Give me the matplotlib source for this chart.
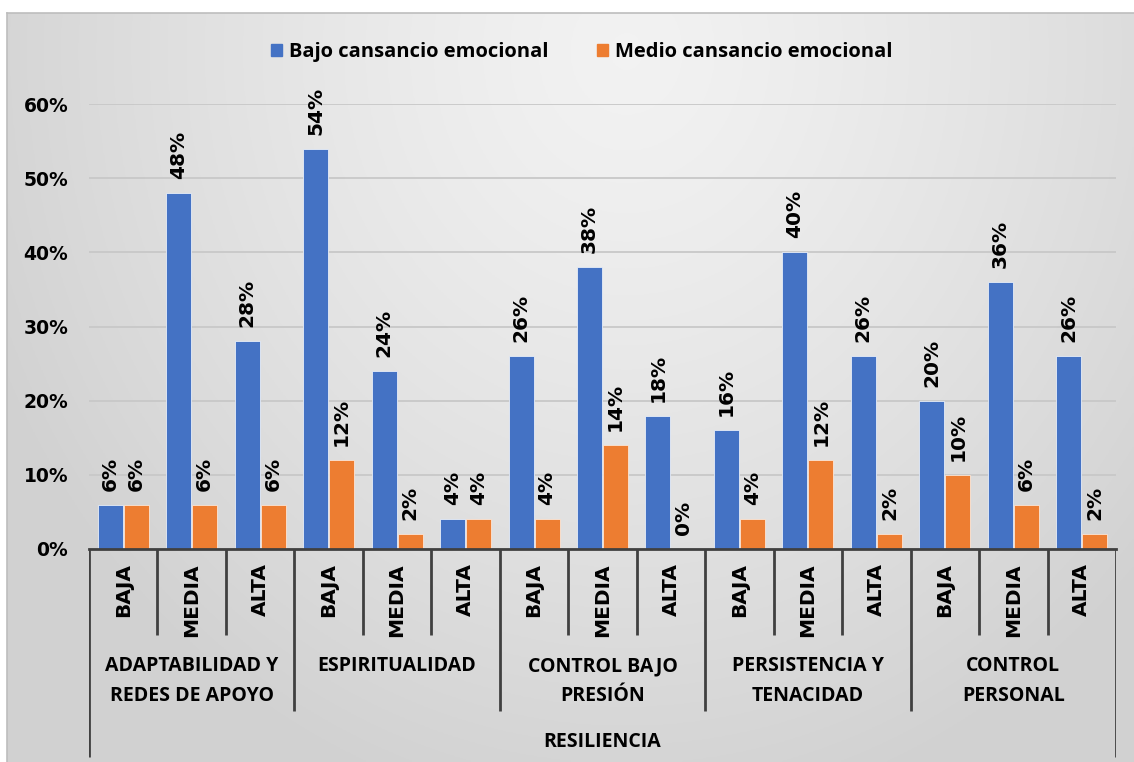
import numpy as np
import matplotlib.pyplot as plt
from matplotlib.patches import Patch

# data
niveles = ["BAJA", "MEDIA", "ALTA"] * 5
dimensiones = ["ADAPTABILIDAD Y\nREDES DE APOYO", "ESPIRITUALIDAD", "CONTROL BAJO\nPRESIÓN",
               "PERSISTENCIA Y\nTENACIDAD", "CONTROL\nPERSONAL"]
titulo_eje = "RESILIENCIA"
series = ["Bajo cansancio emocional", "Medio cansancio emocional"]
bajo = [6, 48, 28, 54, 24, 4, 26, 38, 18, 16, 40, 26, 20, 36, 26]
medio = [6, 6, 6, 12, 2, 4, 4, 14, 0, 4, 12, 2, 10, 6, 2]
colores = ["#4472C4", "#ED7D31"]

W, H = 1134, 762
fig = plt.figure(figsize=(W / 100, H / 100), dpi=100)
fig.patch.set_facecolor("white")

# gray gradient background of the chart area (lighter in the middle, darker at the edges)
bg = fig.add_axes([7 / W, 0, 1 - 7 / W, (H - 13) / H], zorder=-10)
gx, gy = np.meshgrid(np.linspace(0, 1, 400), np.linspace(0, 1, 300))
r = np.sqrt(((gx - 0.55) / 0.62) ** 2 + ((gy - 0.05) / 1.05) ** 2)
val = 0.95 - 0.13 * np.clip(r, 0, 1) ** 1.3
bg.imshow(np.dstack([val, val, val]), aspect="auto", extent=(0, 1, 1, 0))
bg.set_xticks([])
bg.set_yticks([])
for side, s in bg.spines.items():
    s.set_color("#bdbdbd")
    s.set_linewidth(1.2)
    if side in ("right", "bottom"):
        s.set_visible(False)


def fy(px):
    return 1 - px / H


x0, x1 = 89, 1116
y_top, y_axis = 104, 549
ax = fig.add_axes([x0 / W, fy(y_axis), (x1 - x0) / W, (y_axis - y_top) / H])
ax.set_facecolor("none")

n = len(niveles)
x = np.arange(n)
bw = 0.365
ax.bar(x - 0.19, np.array(bajo) / 100, bw, color=colores[0], edgecolor="#e8eef8", linewidth=0.6, zorder=3)
ax.bar(x + 0.19, np.array(medio) / 100, bw, color=colores[1], edgecolor="#fbe5d6", linewidth=0.6, zorder=3)

for xs, vals in [(x - 0.19, bajo), (x + 0.19, medio)]:
    for xi, v in zip(xs, vals):
        ax.annotate(f"{v}%", (xi, v / 100), xytext=(0, 10), textcoords="offset points",
                    rotation=90, ha="center", va="bottom", fontsize=14.5,
                    fontweight="bold", color="black", annotation_clip=False)

ax.set_xlim(-0.5, n - 0.5)
ax.set_ylim(0, 0.6)
ax.set_yticks(np.arange(0, 0.61, 0.1))
ax.set_yticklabels([f"{int(round(t * 100))}%" for t in np.arange(0, 0.61, 0.1)],
                   fontsize=13.5, fontweight="bold")
ax.tick_params(axis="y", length=0, pad=15)
ax.set_xticks([])
ax.grid(axis="y", color="#c8c8c8", linewidth=1.3, zorder=0)
for s in ["top", "right", "left"]:
    ax.spines[s].set_visible(False)
ax.spines["bottom"].set_color("#404040")
ax.spines["bottom"].set_linewidth(2)
ax.spines["bottom"].set_zorder(4)

# multi-level category table under the axis (y in pixels below the axis line)
tb = fig.add_axes([x0 / W, 0, (x1 - x0) / W, (H - y_axis) / H])
tb.set_xlim(-0.5, n - 0.5)
tb.set_ylim(H - y_axis, 0)
tb.axis("off")
tb.patch.set_visible(False)
lc = "#404040"
for k in range(n + 1):
    xb = k - 0.5
    if k in (0, n):
        y_end = 208
    elif k % 3 == 0:
        y_end = 162
    else:
        y_end = 86
    tb.plot([xb, xb], [0, y_end], color=lc, linewidth=2, solid_capstyle="butt")

for xi, lab in zip(x, niveles):
    tb.text(xi, 14, lab, rotation=90, ha="center", va="top", fontsize=14.5,
            fontweight="bold", color="black")

for g, lab in enumerate(dimensiones):
    for j, linea in enumerate(lab.split("\n")):
        tb.text(3 * g + 1, 117 + 30 * j, linea, ha="center", va="center", fontsize=14,
                fontweight="bold", family="Open Sans", color="black")

tb.text((n - 1) / 2, 193, titulo_eje, ha="center", va="center", fontsize=14,
        fontweight="bold", family="Open Sans", color="black")

handles = [Patch(color=c, label=s) for c, s in zip(colores, series)]
fig.legend(handles=handles, loc="center", bbox_to_anchor=(582 / W, fy(52)), ncol=2,
           frameon=False, handlelength=0.55, handleheight=0.55, handletextpad=0.35,
           columnspacing=2.4, prop={"family": "Open Sans", "weight": "bold", "size": 14.5})

fig.savefig("out.png", dpi=100)
